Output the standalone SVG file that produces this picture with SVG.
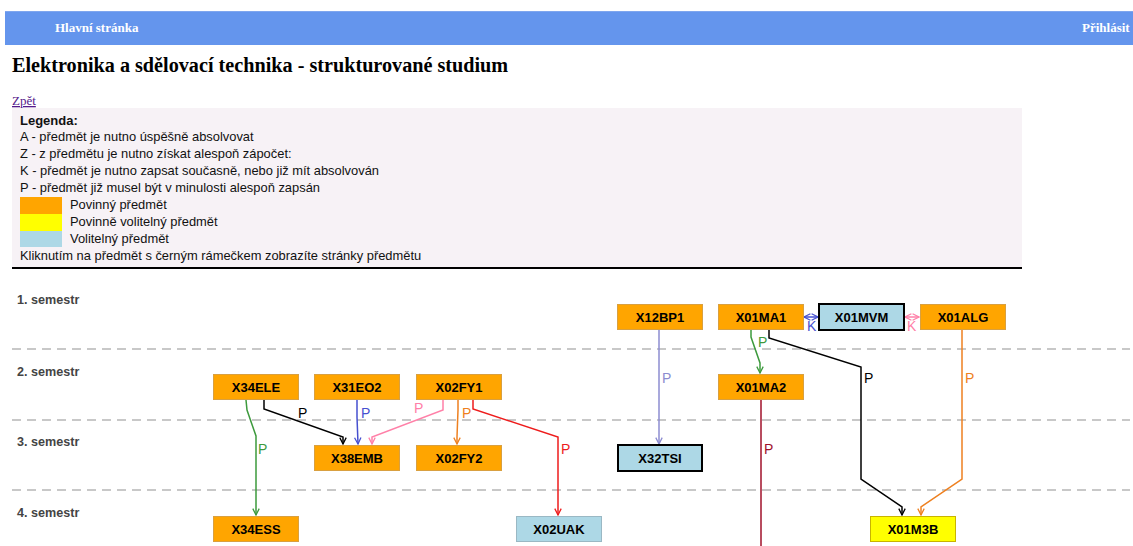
<svg xmlns="http://www.w3.org/2000/svg" width="1133" height="546" viewBox="0 0 1133 546">
  <style>
    .nav { font-family: "Liberation Serif", serif; font-weight: bold; font-size: 13px; fill: #ffffff; }
    .title { font-family: "Liberation Serif", serif; font-weight: bold; font-size: 20.2px; fill: #000; }
    .link { font-family: "Liberation Serif", serif; font-size: 13px; fill: #551a8b; text-decoration: underline; }
    .leg { font-family: "Liberation Sans", Arial, sans-serif; font-size: 12.9px; fill: #111; }
    .legb { font-family: "Liberation Sans", Arial, sans-serif; font-size: 13px; font-weight: bold; fill: #111; }
    .sem { font-family: "Liberation Sans", Arial, sans-serif; font-size: 12.6px; font-weight: bold; fill: #444; }
    .sep { stroke: #c8c8c8; stroke-width: 2; stroke-dasharray: 9 6; fill: none; }
    .box { stroke-width: 1; }
    .req { fill: #ffa500; stroke: #d9a040; }
    .opt { fill: #ffff00; stroke: #c8b400; }
    .vol { fill: #add8e6; stroke: #9ab8c4; }
    .lnk { stroke: #000; stroke-width: 2; }
    .nt { font-family: "Liberation Sans", Arial, sans-serif; font-size: 13px; font-weight: bold; fill: #000; text-anchor: middle; }
    .c { fill: none; stroke-width: 1.5; }
    .lbl { font-family: "Liberation Sans", Arial, sans-serif; font-size: 14px; }
  </style>
  <defs>
    <marker id="a-green" viewBox="0 0 10 10" refX="9" refY="5" markerWidth="8" markerHeight="8" orient="auto-start-reverse" markerUnits="userSpaceOnUse"><path d="M1 1 L9 5 L1 9" fill="none" stroke="#3d9a3d" stroke-width="1.6"/></marker>
    <marker id="a-black" viewBox="0 0 10 10" refX="9" refY="5" markerWidth="8" markerHeight="8" orient="auto-start-reverse" markerUnits="userSpaceOnUse"><path d="M1 1 L9 5 L1 9" fill="none" stroke="#000" stroke-width="1.6"/></marker>
    <marker id="a-blue" viewBox="0 0 10 10" refX="9" refY="5" markerWidth="8" markerHeight="8" orient="auto-start-reverse" markerUnits="userSpaceOnUse"><path d="M1 1 L9 5 L1 9" fill="none" stroke="#4650d0" stroke-width="1.6"/></marker>
    <marker id="a-pink" viewBox="0 0 10 10" refX="9" refY="5" markerWidth="8" markerHeight="8" orient="auto-start-reverse" markerUnits="userSpaceOnUse"><path d="M1 1 L9 5 L1 9" fill="none" stroke="#ff80a8" stroke-width="1.6"/></marker>
    <marker id="a-orange" viewBox="0 0 10 10" refX="9" refY="5" markerWidth="8" markerHeight="8" orient="auto-start-reverse" markerUnits="userSpaceOnUse"><path d="M1 1 L9 5 L1 9" fill="none" stroke="#ee8020" stroke-width="1.6"/></marker>
    <marker id="a-red" viewBox="0 0 10 10" refX="9" refY="5" markerWidth="8" markerHeight="8" orient="auto-start-reverse" markerUnits="userSpaceOnUse"><path d="M1 1 L9 5 L1 9" fill="none" stroke="#ee1c1c" stroke-width="1.6"/></marker>
    <marker id="a-lav" viewBox="0 0 10 10" refX="9" refY="5" markerWidth="8" markerHeight="8" orient="auto-start-reverse" markerUnits="userSpaceOnUse"><path d="M1 1 L9 5 L1 9" fill="none" stroke="#8c8cd0" stroke-width="1.6"/></marker>
  </defs>

  <rect width="1133" height="546" fill="#ffffff"/>

  <!-- navigation bar -->
  <rect x="5" y="11" width="1128" height="34" fill="#6495ed"/>
  <line x1="5" y1="11.5" x2="1133" y2="11.5" stroke="#7fa6ee" stroke-width="1"/>
  <text class="nav" x="55" y="32">Hlavní stránka</text>
  <text class="nav" x="1082" y="32">Přihlásit</text>

  <text class="title" x="12" y="72">Elektronika a sdělovací technika - strukturované studium</text>
  <text class="link" x="12" y="105">Zpět</text>

  <!-- legend panel -->
  <g id="legend">
    <rect x="12" y="108" width="1010" height="160" fill="#f7f2f6"/>
    <line x1="12" y1="268" x2="1022" y2="268" stroke="#000" stroke-width="2"/>
    <text class="legb" x="20" y="125">Legenda:</text>
    <text class="leg" x="20" y="141">A - předmět je nutno úspěšně absolvovat</text>
    <text class="leg" x="20" y="158">Z - z předmětu je nutno získat alespoň zápočet:</text>
    <text class="leg" x="20" y="175">K - předmět je nutno zapsat současně, nebo již mít absolvován</text>
    <text class="leg" x="20" y="192">P - předmět již musel být v minulosti alespoň zapsán</text>
    <rect x="20" y="197" width="42" height="17" fill="#ffa500"/>
    <rect x="20" y="214" width="42" height="17" fill="#ffff00"/>
    <rect x="20" y="231" width="42" height="16" fill="#add8e6"/>
    <text class="leg" x="70" y="209">Povinný předmět</text>
    <text class="leg" x="70" y="226">Povinně volitelný předmět</text>
    <text class="leg" x="70" y="243">Volitelný předmět</text>
    <text class="leg" x="20" y="260">Kliknutím na předmět s černým rámečkem zobrazíte stránky předmětu</text>
  </g>

  <!-- semester rows -->
  <g id="semesters">
    <text class="sem" x="17" y="304">1. semestr</text>
    <text class="sem" x="17" y="376">2. semestr</text>
    <text class="sem" x="17" y="446">3. semestr</text>
    <text class="sem" x="17" y="517">4. semestr</text>
    <line class="sep" x1="12" y1="349" x2="1130" y2="349"/>
    <line class="sep" x1="12" y1="420" x2="1130" y2="420"/>
    <line class="sep" x1="12" y1="490" x2="1130" y2="490"/>
  </g>

  <!-- prerequisite connectors -->
  <g id="connectors">
    <polyline class="c" stroke="#3d9a3d" points="246,400 247,410 256,436 256,515" marker-end="url(#a-green)"/>
    <text class="lbl" fill="#3d9a3d" x="258" y="454">P</text>

    <polyline class="c" stroke="#000" points="264,400 264,409 343,437 343,444" marker-end="url(#a-black)"/>
    <text class="lbl" fill="#000" x="298" y="418">P</text>

    <polyline class="c" stroke="#4650d0" points="357,400 357,417 358,444" marker-end="url(#a-blue)"/>
    <text class="lbl" fill="#4650d0" x="361" y="418">P</text>

    <polyline class="c" stroke="#ff80a8" points="443,400 443,410 372,437 372,444" marker-end="url(#a-pink)"/>
    <text class="lbl" fill="#ff80a8" x="414" y="413">P</text>

    <polyline class="c" stroke="#ee8020" points="458,400 458,410 457,437 457,444" marker-end="url(#a-orange)"/>
    <text class="lbl" fill="#ee8020" x="462" y="418">P</text>

    <polyline class="c" stroke="#ee1c1c" points="473,400 473,409 558,437 558,515" marker-end="url(#a-red)"/>
    <text class="lbl" fill="#ee1c1c" x="561" y="454">P</text>

    <polyline class="c" stroke="#8c8cd0" points="659,330 659,444" marker-end="url(#a-lav)"/>
    <text class="lbl" fill="#8c8cd0" x="662" y="383">P</text>

    <line class="c" stroke="#4650d0" x1="804" y1="317" x2="818" y2="317" marker-start="url(#a-blue)" marker-end="url(#a-blue)"/>
    <text class="lbl" fill="#4650d0" x="807" y="331">K</text>

    <line class="c" stroke="#ff80a8" x1="905" y1="317" x2="919" y2="317" marker-start="url(#a-pink)" marker-end="url(#a-pink)"/>
    <text class="lbl" fill="#ff80a8" x="907" y="331">K</text>

    <polyline class="c" stroke="#3d9a3d" points="751,329 751,337 760,363 760,373" marker-end="url(#a-green)"/>
    <text class="lbl" fill="#3d9a3d" x="758" y="347">P</text>

    <polyline class="c" stroke="#000" points="769,329 769,338 861,367 861,479 902,507 902,515" marker-end="url(#a-black)"/>
    <text class="lbl" fill="#000" x="864" y="383">P</text>

    <polyline class="c" stroke="#ee8020" points="962,330 962,479 921,507 921,515" marker-end="url(#a-orange)"/>
    <text class="lbl" fill="#ee8020" x="965" y="383">P</text>

    <line class="c" stroke="#a0102a" x1="761" y1="400" x2="761" y2="546"/>
    <text class="lbl" fill="#a0102a" x="764" y="454">P</text>
  </g>

  <!-- courses -->
  <g id="X12BP1"><rect class="box req" x="617.5" y="304.5" width="85" height="25"/><text class="nt" x="660" y="322">X12BP1</text></g>
  <g id="X01MA1"><rect class="box req" x="718.5" y="304.5" width="85" height="25"/><text class="nt" x="761" y="322">X01MA1</text></g>
  <g id="X01MVM"><rect class="vol lnk" x="819" y="304" width="85" height="26"/><text class="nt" x="861.5" y="322">X01MVM</text></g>
  <g id="X01ALG"><rect class="box req" x="920.5" y="304.5" width="85" height="25"/><text class="nt" x="963" y="322">X01ALG</text></g>

  <g id="X34ELE"><rect class="box req" x="213.5" y="374.5" width="85" height="25"/><text class="nt" x="256" y="392">X34ELE</text></g>
  <g id="X31EO2"><rect class="box req" x="314.5" y="374.5" width="85" height="25"/><text class="nt" x="357" y="392">X31EO2</text></g>
  <g id="X02FY1"><rect class="box req" x="416.5" y="374.5" width="85" height="25"/><text class="nt" x="459" y="392">X02FY1</text></g>
  <g id="X01MA2"><rect class="box req" x="718.5" y="374.5" width="85" height="25"/><text class="nt" x="761" y="392">X01MA2</text></g>

  <g id="X38EMB"><rect class="box req" x="314.5" y="445.5" width="85" height="25"/><text class="nt" x="357" y="463">X38EMB</text></g>
  <g id="X02FY2"><rect class="box req" x="416.5" y="445.5" width="85" height="25"/><text class="nt" x="459" y="463">X02FY2</text></g>
  <g id="X32TSI"><rect class="vol lnk" x="618" y="445" width="84" height="26"/><text class="nt" x="660" y="463">X32TSI</text></g>

  <g id="X34ESS"><rect class="box req" x="213.5" y="516.5" width="85" height="25"/><text class="nt" x="256" y="534">X34ESS</text></g>
  <g id="X02UAK"><rect class="box vol" x="516.5" y="516.5" width="85" height="25"/><text class="nt" x="559" y="534">X02UAK</text></g>
  <g id="X01M3B"><rect class="box opt" x="870.5" y="516.5" width="85" height="25"/><text class="nt" x="913" y="534">X01M3B</text></g>
</svg>
